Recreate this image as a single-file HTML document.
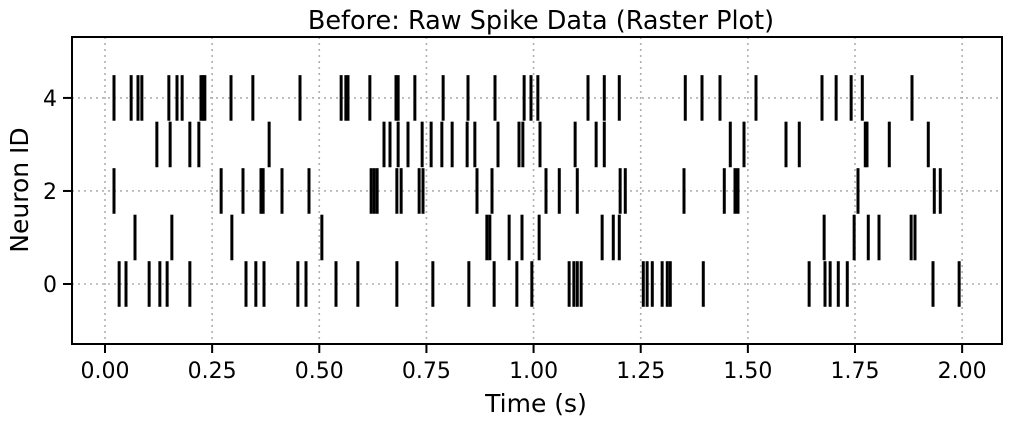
<!DOCTYPE html>
<html><head><meta charset="utf-8"><style>
body{margin:0;background:#fff;}
svg text{font-family:"DejaVu Sans","Liberation Sans",sans-serif;fill:#000;}
</style></head><body>
<svg id="chart" width="1011" height="425" xmlns="http://www.w3.org/2000/svg">
<text x="541" y="29" font-size="25.5" text-anchor="middle">Before: Raw Spike Data (Raster Plot)</text>
<g id="grid"></g><g id="marks"></g><g id="axes"></g>
<text x="536" y="412" font-size="25" text-anchor="middle">Time (s)</text>
<text transform="translate(28,190) rotate(-90)" font-size="25" text-anchor="middle">Neuron ID</text>
</svg>
<script>
const neuronIds = [0,1,2,3,4];
const spikes0 = [0.033,0.049,0.103,0.128,0.145,0.198,0.329,0.352,0.371,0.450,0.469,0.539,0.590,0.681,0.765,0.849,0.908,0.961,0.996,1.083,1.094,1.102,1.111,1.256,1.265,1.277,1.300,1.312,1.319,1.396,1.643,1.680,1.692,1.711,1.732,1.932,1.993];
const spikes1 = [0.070,0.156,0.296,0.506,0.891,0.898,0.943,0.973,1.013,1.160,1.186,1.200,1.678,1.748,1.781,1.806,1.881,1.890];
const spikes2 = [0.021,0.271,0.322,0.364,0.369,0.413,0.476,0.621,0.628,0.635,0.681,0.691,0.733,0.742,0.868,0.903,1.029,1.060,1.102,1.202,1.214,1.351,1.445,1.470,1.477,1.757,1.935,1.949];
const spikes3 = [0.121,0.152,0.198,0.219,0.383,0.651,0.665,0.684,0.707,0.740,0.761,0.786,0.810,0.845,0.863,0.917,0.966,0.975,1.015,1.097,1.146,1.165,1.459,1.491,1.589,1.620,1.774,1.778,1.830,1.921];
const spikes4 = [0.021,0.061,0.077,0.086,0.149,0.168,0.180,0.224,0.229,0.233,0.294,0.345,0.455,0.551,0.562,0.567,0.618,0.679,0.684,0.723,0.789,0.847,0.910,0.978,0.994,1.010,1.127,1.165,1.200,1.354,1.393,1.435,1.519,1.673,1.706,1.741,1.767,1.883];
const xTicks = [0,0.25,0.5,0.75,1.0,1.25,1.5,1.75,2.0];
const xTickLabels = ["0.00","0.25","0.50","0.75","1.00","1.25","1.50","1.75","2.00"];
const yTicks = [0,2,4];
const yTickLabels = ["0","2","4"];

const L=72,R=1002,T=37,B=344;
const xMin=-0.077,xMax=2.093,yMin=-1.29,yMax=5.31;
const xs=v=>L+(v-xMin)/(xMax-xMin)*(R-L);
const ys=v=>B-(v-yMin)/(yMax-yMin)*(B-T);
const NS="http://www.w3.org/2000/svg";
function mk(tag,parent,attrs){const e=document.createElementNS(NS,tag);for(const k in attrs)e.setAttribute(k,attrs[k]);parent.appendChild(e);return e;}
const grid=document.getElementById('grid'),marks=document.getElementById('marks'),axes=document.getElementById('axes');
xTicks.forEach((t,i)=>{
  const g=mk('line',grid,{x1:xs(t),x2:xs(t),y1:T,y2:B,stroke:'#b0b0b0','stroke-width':1.6,'stroke-dasharray':'2,4'});
  
  
  const tk=mk('line',axes,{x1:xs(t),x2:xs(t),y1:B,y2:B+9,stroke:'#000','stroke-width':2});
  
  
  const tx=mk('text',axes,{x:xs(t),y:B+34,'font-size':22,'text-anchor':'middle'});
  tx.textContent=xTickLabels[i];
  
  
});
yTicks.forEach((t,i)=>{
  const g=mk('line',grid,{x1:L,x2:R,y1:ys(t),y2:ys(t),stroke:'#b0b0b0','stroke-width':1.6,'stroke-dasharray':'2,4'});
  
  
  const tk=mk('line',axes,{x1:L-9,x2:L,y1:ys(t),y2:ys(t),stroke:'#000','stroke-width':2});
  
  
  const tx=mk('text',axes,{x:L-15,y:ys(t)+8,'font-size':22,'text-anchor':'end'});
  tx.textContent=yTickLabels[i];
  
  
});
[spikes0,spikes1,spikes2,spikes3,spikes4].forEach((arr,r)=>{
  const id=neuronIds[r];
  arr.forEach(t=>{
    const m=mk('line',marks,{x1:xs(t),x2:xs(t),y1:ys(id+0.49),y2:ys(id-0.49),stroke:'#000','stroke-width':3});
    
    
  });
});
const fr=mk('rect',axes,{x:L,y:T,width:R-L,height:B-T,fill:'none',stroke:'#000','stroke-width':2});


</script>
</body></html>
